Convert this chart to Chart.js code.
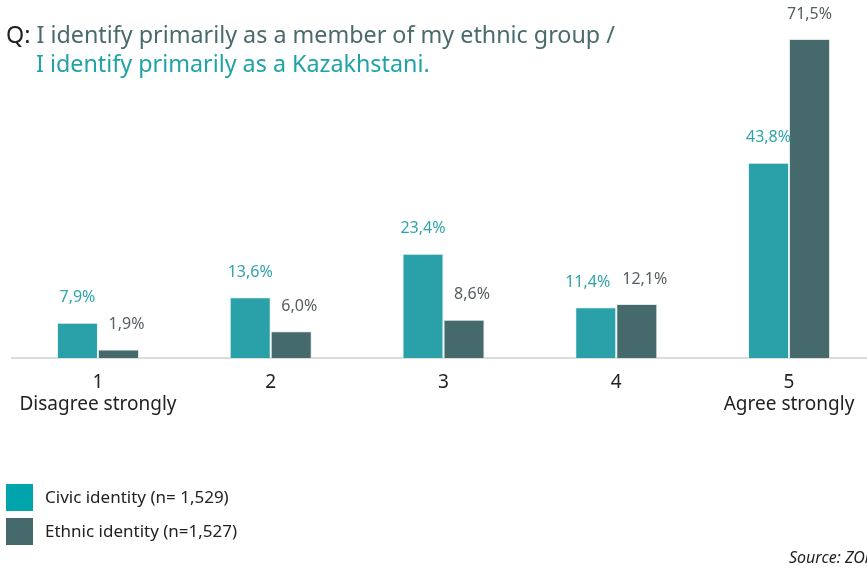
<!DOCTYPE html>
<html><head><meta charset="utf-8">
<script src="https://cdn.jsdelivr.net/npm/chart.js@4/dist/chart.umd.min.js"></script>
<style>
html,body{margin:0;padding:0;background:#fff;overflow:hidden;width:867px;height:568px;font-family:"Noto Sans",sans-serif;}
#wrap{position:absolute;left:0;top:0;width:880px;height:568px;}
.t{position:absolute;font-size:23.3px;line-height:29px;white-space:nowrap;}
#t1{left:6px;top:20px;color:#4a6b6d;}
#t1 .q{color:#222;}
#t2{left:36px;top:49px;color:#1fa3a8;}
.leg{position:absolute;left:6px;width:27px;height:27px;}
.legt{position:absolute;left:45px;font-size:17px;color:#222;white-space:nowrap;line-height:20px;}
#src{position:absolute;left:789px;top:546px;font-size:16px;font-style:italic;color:#222;white-space:nowrap;}
</style></head>
<body>
<div id="wrap"><canvas id="c" width="880" height="568"></canvas></div>
<div class="t" id="t1"><span class="q">Q:</span> I identify primarily as a member of my ethnic group /</div>
<div class="t" id="t2">I identify primarily as a Kazakhstani.</div>
<div class="leg" style="top:484px;background:#00a4aa"></div>
<div class="legt" style="top:487px">Civic identity (n= 1,529)</div>
<div class="leg" style="top:518px;background:#466a6c"></div>
<div class="legt" style="top:521px">Ethnic identity (n=1,527)</div>
<div id="src">Source: ZOiS</div>
<script>
const categories = [["1","Disagree strongly"],"2","3","4",["5","Agree strongly"]];
const civic = [7.9, 13.6, 23.4, 11.4, 43.8];
const ethnic = [1.9, 6.0, 8.6, 12.1, 71.5];
const seriesNames = ["Civic identity (n= 1,529)", "Ethnic identity (n=1,527)"];
const fmt = v => v.toFixed(1).replace('.', ',') + '%';

const labelPlugin = {
  id: 'barLabels',
  afterDatasetsDraw(chart) {
    const ctx = chart.ctx;
    ctx.save();
    ctx.font = '16px "Noto Sans"';
    ctx.textAlign = 'center';
    ctx.textBaseline = 'middle';
    const m0 = chart.getDatasetMeta(0), m1 = chart.getDatasetMeta(1);
    const area = chart.chartArea;
    m0.data.forEach((b0, j) => {
      const b1 = m1.data[j];
      const t0 = fmt(civic[j]), t1 = fmt(ethnic[j]);
      let x0 = b0.x, x1 = b1.x;
      const y0 = b0.y - 25, y1 = b1.y - 25;
      // nudge the ethnic label outward when its bar is short
      if (area.bottom - b1.y < (area.bottom - area.top) / 2) x1 += 8;
      // separate labels that would collide
      const w0 = ctx.measureText(t0).width, w1 = ctx.measureText(t1).width;
      const gap = (x1 - w1 / 2) - (x0 + w0 / 2);
      if (Math.abs(y0 - y1) < 18 && gap < 12) x0 -= (12 - gap);
      ctx.fillStyle = '#2fa5aa';
      ctx.fillText(t0, x0, y0);
      ctx.fillStyle = '#555f60';
      ctx.fillText(t1, x1, y1);
    });
    ctx.restore();
  }
};

new Chart(document.getElementById('c'), {
  type: 'bar',
  data: {
    labels: categories,
    datasets: [
      {label: seriesNames[0], data: civic, backgroundColor: '#2aa1a8', borderColor: '#e8f4f4', borderWidth: 1},
      {label: seriesNames[1], data: ethnic, backgroundColor: '#466a6c', borderColor: '#e0e8e8', borderWidth: 1}
    ]
  },
  options: {
    responsive: false,
    animation: false,
    devicePixelRatio: 1,
    layout: {padding: {left: 11.6, right: 4.6, top: 1.2, bottom: 0}},
    plugins: {legend: {display: false}, tooltip: {enabled: false}},
    scales: {
      x: {
        offset: true,
        grid: {display: false, drawTicks: false},
        border: {display: true, color: '#dcdcdc', width: 2},
        ticks: {padding: 14, color: '#222', font: {family: 'Noto Sans', size: 19, lineHeight: 1.15}, maxRotation: 0, autoSkip: false},
        afterFit(scale) { scale.height = 210; }
      },
      y: {display: false, min: 0, max: 80}
    },
    datasets: {bar: {categoryPercentage: 0.475, barPercentage: 1.0}}
  },
  plugins: [labelPlugin]
});
</script>
</body></html>
